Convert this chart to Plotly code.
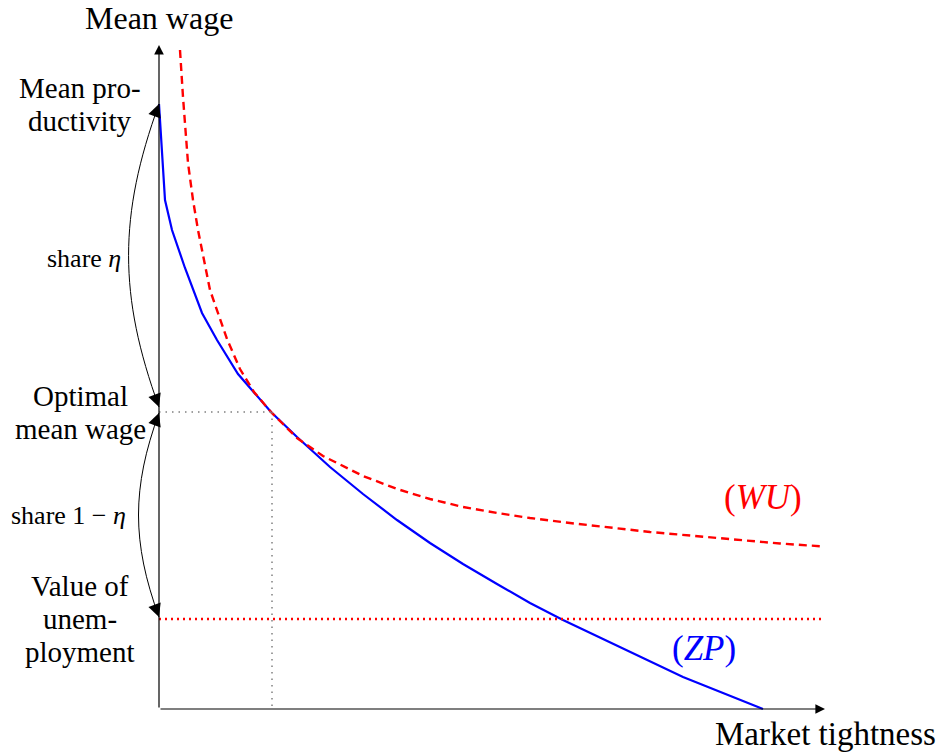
import math
import plotly.graph_objects as go

# ---- data ----
zp_x = [0.00, 0.06, 0.13, 0.26, 0.43, 0.58, 0.79, 1.12, 1.38, 1.71, 2.04, 2.38,
        2.71, 3.04, 3.38, 3.71, 4.04, 4.58, 5.01, 5.24, 6.04]
zp_y = [6.05, 5.09, 4.79, 4.41, 3.96, 3.69, 3.35, 2.97, 2.72, 2.42, 2.15, 1.89,
        1.66, 1.45, 1.25, 1.06, 0.89, 0.63, 0.43, 0.32, 0.00]

wu_x = [0.21, 0.24, 0.29, 0.34, 0.39, 0.51, 0.68, 0.81, 0.95, 1.12, 1.38, 1.64, 2.04,
        2.38, 2.71, 3.04, 3.38, 3.71, 4.11, 4.91, 6.21, 6.65]
wu_y = [6.59, 6.12, 5.46, 5.09, 4.79, 4.19, 3.70, 3.40, 3.17, 2.97, 2.71, 2.53, 2.33,
        2.20, 2.10, 2.02, 1.96, 1.91, 1.86, 1.77, 1.655, 1.625]

level_productivity = 6.05
level_optimal = 2.97
level_unemployment = 0.90
optimal_tightness = 1.13
x_axis_end = 6.66
y_axis_end = 6.64

labels_left = [["Mean pro-", "ductivity"], ["Optimal", "mean wage"], ["Value of", "unem-", "ployment"]]
label_levels = [level_productivity, level_optimal, level_unemployment]

FONT = "Liberation Serif"
fig = go.Figure()

# ZP curve
fig.add_trace(go.Scatter(x=zp_x, y=zp_y, mode="lines",
                         line=dict(color="#0000ff", width=2.2), hoverinfo="skip"))
# WU curve
fig.add_trace(go.Scatter(x=wu_x, y=wu_y, mode="lines",
                         line=dict(color="#ff0000", width=2.4, dash="8px,5px"), hoverinfo="skip"))
# value of unemployment (red dotted)
fig.add_trace(go.Scatter(x=[0, wu_x[-1]], y=[level_unemployment, level_unemployment], mode="lines",
                         line=dict(color="#ff0000", width=2.4, dash="2px,4px"), hoverinfo="skip"))
# gray dotted guides
fig.add_trace(go.Scatter(x=[0, optimal_tightness], y=[level_optimal, level_optimal], mode="lines",
                         line=dict(color="#808080", width=1.5, dash="1.5px,5px"), hoverinfo="skip"))
fig.add_trace(go.Scatter(x=[optimal_tightness, optimal_tightness], y=[level_optimal, 0], mode="lines",
                         line=dict(color="#808080", width=1.5, dash="1.5px,5px"), hoverinfo="skip"))

annotations = []
shapes = []

# axes with arrows
annotations.append(dict(x=x_axis_end, y=0, ax=0, ay=0, xref="x", yref="y", axref="x", ayref="y",
                        text="", showarrow=True, arrowhead=2, arrowsize=1.6, arrowwidth=1.2,
                        arrowcolor="black", standoff=0))
annotations.append(dict(x=0, y=y_axis_end, ax=0, ay=0, xref="x", yref="y", axref="x", ayref="y",
                        text="", showarrow=True, arrowhead=2, arrowsize=1.6, arrowwidth=1.2,
                        arrowcolor="black", standoff=0))

# curved double arrows
theta = math.radians(20)
k = 10
for (y0, y1) in [(level_productivity, level_optimal + 0.05), (level_optimal - 0.01, level_unemployment + 0.02)]:
    L = y0 - y1
    d = 0.3915 * L
    cx = -d * math.sin(theta)
    c1y = y0 - d * math.cos(theta)
    c2y = y1 + d * math.cos(theta)
    shapes.append(dict(type="path", xref="x", yref="y",
                       path=f"M 0,{y0} C {cx},{c1y} {cx},{c2y} 0,{y1}",
                       line=dict(color="black", width=1)))
    annotations.append(dict(x=0, y=y0, ax=-k * math.sin(theta), ay=k * math.cos(theta),
                            xref="x", yref="y", text="", showarrow=True, arrowhead=2,
                            arrowsize=2.6, arrowwidth=1, arrowcolor="black", standoff=0))
    annotations.append(dict(x=0, y=y1, ax=-k * math.sin(theta), ay=-k * math.cos(theta),
                            xref="x", yref="y", text="", showarrow=True, arrowhead=2,
                            arrowsize=2.6, arrowwidth=1, arrowcolor="black", standoff=0))

# left labels (one annotation per line, tighter line spacing like the reference)
LINE_GAP = 33
for lines, lv in zip(labels_left, label_levels):
    n = len(lines)
    for i, ln in enumerate(lines):
        annotations.append(dict(x=-0.79, y=lv, xref="x", yref="y", text=ln, showarrow=False,
                                xanchor="center", yanchor="middle",
                                yshift=((n - 1) / 2 - i) * LINE_GAP,
                                font=dict(family=FONT, size=29, color="black")))

# share labels
annotations.append(dict(x=-0.36, y=(level_productivity + level_optimal) / 2, xref="x", yref="y",
                        text="share <i>η</i>", showarrow=False, xanchor="right", yanchor="middle",
                        font=dict(family=FONT, size=26, color="black")))
annotations.append(dict(x=-0.31, y=(level_optimal + level_unemployment) / 2, xref="x", yref="y",
                        text="share 1 − <i>η</i>", showarrow=False, xanchor="right", yanchor="middle",
                        font=dict(family=FONT, size=26, color="black")))

# axis titles
annotations.append(dict(x=0, y=6.91, xref="x", yref="y", text="Mean wage", showarrow=False,
                        xanchor="center", yanchor="middle",
                        font=dict(family=FONT, size=32, color="black")))
annotations.append(dict(x=x_axis_end, y=-0.245, xref="x", yref="y", text="Market tightness",
                        showarrow=False, xanchor="center", yanchor="middle",
                        font=dict(family=FONT, size=33, color="black")))

# curve labels
annotations.append(dict(x=6.04, y=2.12, xref="x", yref="y", text="(<i>WU</i>)", showarrow=False,
                        xanchor="center", yanchor="middle",
                        font=dict(family=FONT, size=35, color="#ff0000")))
annotations.append(dict(x=5.45, y=0.61, xref="x", yref="y", text="(<i>ZP</i>)", showarrow=False,
                        xanchor="center", yanchor="middle",
                        font=dict(family=FONT, size=35, color="#0000ff")))

fig.update_layout(
    width=942, height=754,
    margin=dict(l=0, r=0, t=0, b=0),
    paper_bgcolor="white", plot_bgcolor="white",
    showlegend=False,
    xaxis=dict(range=[-1.59, 7.83], visible=False, fixedrange=True),
    yaxis=dict(range=[-0.45, 7.09], visible=False, fixedrange=True),
    annotations=annotations,
    shapes=shapes,
)

fig.write_html("out.html", config={"displayModeBar": False},
               post_script="document.body.style.margin='0';document.body.style.overflow='hidden';")
